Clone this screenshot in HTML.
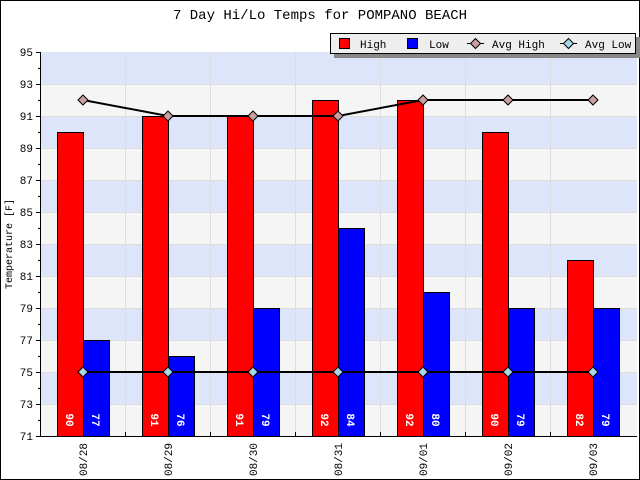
<!DOCTYPE html><html><head><style>body{margin:0;background:#fff}svg{display:block}text{font-family:"Liberation Mono","DejaVu Sans Mono",monospace}</style></head><body>
<svg width="640" height="480" xmlns="http://www.w3.org/2000/svg">
<rect x="0.5" y="0.5" width="639" height="479" fill="#fff" stroke="#000"/>
<text x="320" y="19" font-size="14" text-anchor="middle">7 Day Hi/Lo Temps for POMPANO BEACH</text>
<g>
<rect x="41" y="52" width="596" height="32" fill="#dde5fb"/>
<rect x="41" y="84" width="596" height="32" fill="#f5f5f5"/>
<rect x="41" y="116" width="596" height="32" fill="#dde5fb"/>
<rect x="41" y="148" width="596" height="32" fill="#f5f5f5"/>
<rect x="41" y="180" width="596" height="32" fill="#dde5fb"/>
<rect x="41" y="212" width="596" height="32" fill="#f5f5f5"/>
<rect x="41" y="244" width="596" height="32" fill="#dde5fb"/>
<rect x="41" y="276" width="596" height="32" fill="#f5f5f5"/>
<rect x="41" y="308" width="596" height="32" fill="#dde5fb"/>
<rect x="41" y="340" width="596" height="32" fill="#f5f5f5"/>
<rect x="41" y="372" width="596" height="32" fill="#dde5fb"/>
<rect x="41" y="404" width="596" height="32" fill="#f5f5f5"/>
</g>
<path d="M41 84.5H637M41 116.5H637M41 148.5H637M41 180.5H637M41 212.5H637M41 244.5H637M41 276.5H637M41 308.5H637M41 340.5H637M41 372.5H637M41 404.5H637M125.5 52V436M210.5 52V436M295.5 52V436M380.5 52V436M465.5 52V436M550.5 52V436" stroke="#ddd" fill="none"/>
<g stroke="#000">
<rect x="57.5" y="132.5" width="26" height="304" fill="#f00"/><rect x="83.5" y="340.5" width="26" height="96" fill="#00f"/>
<rect x="142.5" y="116.5" width="26" height="320" fill="#f00"/><rect x="168.5" y="356.5" width="26" height="80" fill="#00f"/>
<rect x="227.5" y="116.5" width="26" height="320" fill="#f00"/><rect x="253.5" y="308.5" width="26" height="128" fill="#00f"/>
<rect x="312.5" y="100.5" width="26" height="336" fill="#f00"/><rect x="338.5" y="228.5" width="26" height="208" fill="#00f"/>
<rect x="397.5" y="100.5" width="26" height="336" fill="#f00"/><rect x="423.5" y="292.5" width="26" height="144" fill="#00f"/>
<rect x="482.5" y="132.5" width="26" height="304" fill="#f00"/><rect x="508.5" y="308.5" width="26" height="128" fill="#00f"/>
<rect x="567.5" y="260.5" width="26" height="176" fill="#f00"/><rect x="593.5" y="308.5" width="26" height="128" fill="#00f"/>
</g>
<g font-size="11" font-weight="bold" fill="#fff">
<text transform="translate(66,420) rotate(90)" text-anchor="middle">90</text><text transform="translate(92,420) rotate(90)" text-anchor="middle">77</text>
<text transform="translate(151,420) rotate(90)" text-anchor="middle">91</text><text transform="translate(177,420) rotate(90)" text-anchor="middle">76</text>
<text transform="translate(236,420) rotate(90)" text-anchor="middle">91</text><text transform="translate(262,420) rotate(90)" text-anchor="middle">79</text>
<text transform="translate(321,420) rotate(90)" text-anchor="middle">92</text><text transform="translate(347,420) rotate(90)" text-anchor="middle">84</text>
<text transform="translate(406,420) rotate(90)" text-anchor="middle">92</text><text transform="translate(432,420) rotate(90)" text-anchor="middle">80</text>
<text transform="translate(491,420) rotate(90)" text-anchor="middle">90</text><text transform="translate(517,420) rotate(90)" text-anchor="middle">79</text>
<text transform="translate(576,420) rotate(90)" text-anchor="middle">82</text><text transform="translate(602,420) rotate(90)" text-anchor="middle">79</text>
</g>
<path d="M83 100L168 116L253 116L338 116L423 100L508 100L593 100" fill="none" stroke="#000" stroke-width="2"/>
<path d="M83 372H593" fill="none" stroke="#000" stroke-width="2"/>
<g stroke="#000" fill="#c9a0a0">
<path d="M83 95l5 5l-5 5l-5-5z"/><path d="M168 111l5 5l-5 5l-5-5z"/><path d="M253 111l5 5l-5 5l-5-5z"/><path d="M338 111l5 5l-5 5l-5-5z"/><path d="M423 95l5 5l-5 5l-5-5z"/><path d="M508 95l5 5l-5 5l-5-5z"/><path d="M593 95l5 5l-5 5l-5-5z"/>
</g>
<g stroke="#000" fill="#a8d8e8">
<path d="M83 367l5 5l-5 5l-5-5z"/><path d="M168 367l5 5l-5 5l-5-5z"/><path d="M253 367l5 5l-5 5l-5-5z"/><path d="M338 367l5 5l-5 5l-5-5z"/><path d="M423 367l5 5l-5 5l-5-5z"/><path d="M508 367l5 5l-5 5l-5-5z"/><path d="M593 367l5 5l-5 5l-5-5z"/>
</g>
<path d="M40.5 52V437M40 436.5H637" stroke="#000" fill="none"/>
<path d="M36 52.5H40M38 68.5H40M36 84.5H40M38 100.5H40M36 116.5H40M38 132.5H40M36 148.5H40M38 164.5H40M36 180.5H40M38 196.5H40M36 212.5H40M38 228.5H40M36 244.5H40M38 260.5H40M36 276.5H40M38 292.5H40M36 308.5H40M38 324.5H40M36 340.5H40M38 356.5H40M36 372.5H40M38 388.5H40M36 404.5H40M38 420.5H40M36 436.5H40M125.5 432V436M210.5 432V436M295.5 432V436M380.5 432V436M465.5 432V436M550.5 432V436" stroke="#000" fill="none"/>
<g font-size="11" text-anchor="end">
<text x="33" y="56">95</text><text x="33" y="88">93</text><text x="33" y="120">91</text><text x="33" y="152">89</text><text x="33" y="184">87</text><text x="33" y="216">85</text><text x="33" y="248">83</text><text x="33" y="280">81</text><text x="33" y="312">79</text><text x="33" y="344">77</text><text x="33" y="376">75</text><text x="33" y="408">73</text><text x="33" y="440">71</text>
</g>
<g font-size="11" text-anchor="end">
<text transform="translate(87,443) rotate(-90)">08/28</text><text transform="translate(172,443) rotate(-90)">08/29</text><text transform="translate(257,443) rotate(-90)">08/30</text><text transform="translate(342,443) rotate(-90)">08/31</text><text transform="translate(427,443) rotate(-90)">09/01</text><text transform="translate(512,443) rotate(-90)">09/02</text><text transform="translate(597,443) rotate(-90)">09/03</text>
</g>
<text transform="translate(12,244) rotate(-90)" font-size="10" text-anchor="middle">Temperature [F]</text>
<rect x="334" y="37" width="306" height="21" fill="#888"/>
<rect x="330.5" y="33.5" width="305" height="20" fill="#eee" stroke="#000"/>
<rect x="339.5" y="38.5" width="10" height="10" fill="#f00" stroke="#000"/><text x="360" y="48" font-size="11">High</text>
<rect x="407.5" y="38.5" width="10" height="10" fill="#00f" stroke="#000"/><text x="429" y="48" font-size="11">Low</text>
<path d="M467 43.5H484" stroke="#000"/><path d="M475.5 38.5l5 5l-5 5l-5-5z" fill="#c9a0a0" stroke="#000"/><text x="492" y="48" font-size="11">Avg High</text>
<path d="M560 43.5H577" stroke="#000"/><path d="M568.5 38.5l5 5l-5 5l-5-5z" fill="#a8d8e8" stroke="#000"/><text x="585" y="48" font-size="11">Avg Low</text>
</svg></body></html>
